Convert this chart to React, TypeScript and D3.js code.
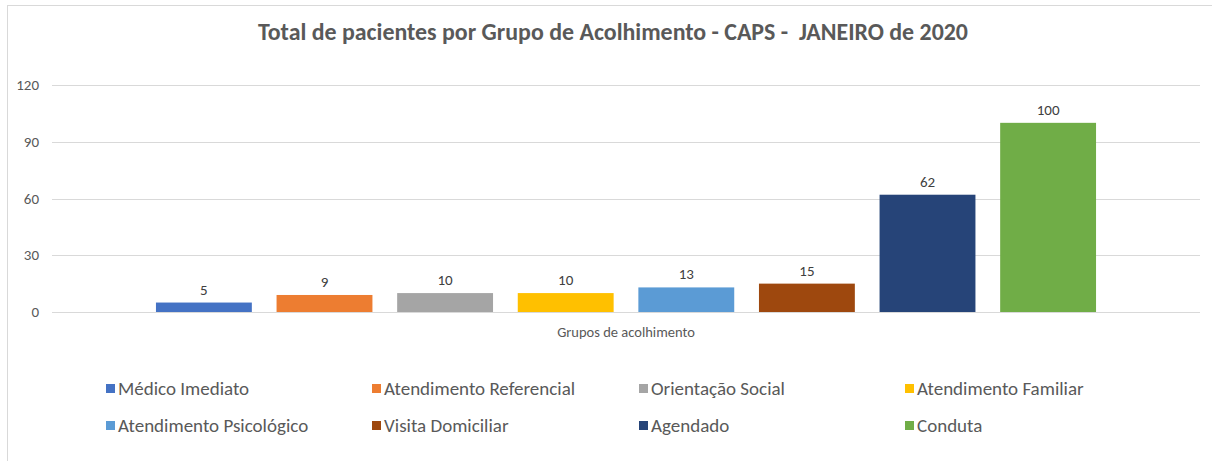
import React from "react";
import * as d3 from "d3";

const categories = [
  "Médico Imediato",
  "Atendimento Referencial",
  "Orientação Social",
  "Atendimento Familiar",
  "Atendimento Psicológico",
  "Visita Domiciliar",
  "Agendado",
  "Conduta",
];
const values = [5, 9, 10, 10, 13, 15, 62, 100];
const colors = ["#4472C4", "#ED7D31", "#A5A5A5", "#FFC000", "#5B9BD5", "#9E480E", "#264478", "#70AD47"];
const yTicks = [0, 30, 60, 90, 120];
const title = "Total de pacientes por Grupo de Acolhimento - CAPS -  JANEIRO de 2020";
const xTitle = "Grupos de acolhimento";

const W = 1212;
const H = 461;
const FONT = "Carlito, Calibri, 'Liberation Sans', Arial, sans-serif";
const TXT = "#595959";

export default function App() {
  const plotLeft = 52;
  const plotRight = 1200;
  const y = d3.scaleLinear().domain([0, 120]).range([312, 85]);
  const x = d3
    .scaleBand<string>()
    .domain(categories)
    .range([plotLeft, plotRight])
    .paddingInner(0.205)
    .paddingOuter(0.862);

  const legendX = [106, 372, 639, 905];
  const legendY = [389, 426];

  return (
    <svg
      width={W}
      height={H}
      style={{ position: "absolute", left: 0, top: 0, background: "#fff" }}
      fontFamily={FONT}
    >
      <rect x={0} y={0} width={W} height={H} fill="#fff" />
      <rect x={7.5} y={5.5} width={W + 10} height={H + 10} fill="none" stroke="#D9D9D9" strokeWidth={1} />
      <text
        x={613}
        y={40}
        textAnchor="middle"
        fontSize={23.9}
        fontWeight="bold"
        fill={TXT}
        style={{ whiteSpace: "pre" }}
      >
        {title}
      </text>
      {yTicks.map((t) => (
        <g key={t}>
          <line x1={plotLeft} x2={plotRight} y1={Math.round(y(t)) + 0.5} y2={Math.round(y(t)) + 0.5} stroke="#D9D9D9" strokeWidth={1} />
          <text x={39} y={y(t) + 5} textAnchor="end" fontSize={15} fill={TXT}>
            {t}
          </text>
        </g>
      ))}
      {categories.map((c, i) => (
        <g key={c}>
          <rect x={x(c)} y={y(values[i])} width={x.bandwidth()} height={y(0) - y(values[i])} fill={colors[i]} />
          <text x={(x(c) as number) + x.bandwidth() / 2} y={y(values[i]) - 8} textAnchor="middle" fontSize={15} fill="#404040">
            {values[i]}
          </text>
        </g>
      ))}
      <text x={626} y={337} textAnchor="middle" fontSize={14.5} fill={TXT}>
        {xTitle}
      </text>
      {categories.map((c, i) => {
        const lx = legendX[i % 4];
        const ly = legendY[Math.floor(i / 4)];
        return (
          <g key={"l" + c}>
            <rect x={lx} y={ly - 5} width={9} height={9} fill={colors[i]} />
            <text x={lx + 12} y={ly + 6} fontSize={19} fill={TXT}>
              {c}
            </text>
          </g>
        );
      })}
    </svg>
  );
}
